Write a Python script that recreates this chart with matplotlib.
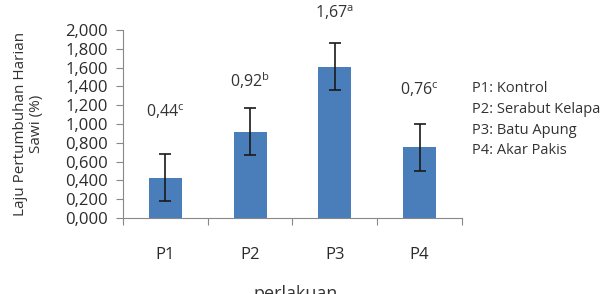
import numpy as np
import matplotlib.pyplot as plt

plt.rcParams['font.family'] = ['Open Sans', 'DejaVu Sans']
plt.rcParams['mathtext.fontset'] = 'custom'
plt.rcParams['mathtext.rm'] = 'Open Sans'

# data
perlakuan = ['P1', 'P2', 'P3', 'P4']
laju = [0.43, 0.915, 1.61, 0.755]
galat = [0.25, 0.25, 0.25, 0.25]
label_nilai = ['0,44$^{\\rm c}$', '0,92$^{\\rm b}$', '1,67$^{\\rm a}$', '0,76$^{\\rm c}$']
label_y = [1.13, 1.46, 2.18, 1.36]
keterangan = ['P1: Kontrol', 'P2: Serabut Kelapa', 'P3: Batu Apung', 'P4: Akar Pakis']

fig = plt.figure(figsize=(6.15, 2.94), dpi=100)
ax = fig.add_axes([0.2, 0.2585, 0.551, 0.6395])

x = np.arange(len(perlakuan))
ax.bar(x, laju, width=0.39, color='#4a7ebb', zorder=2)
ax.errorbar(x, laju, yerr=galat, fmt='none', ecolor='#1a1a1a', elinewidth=1.2,
            capsize=4, capthick=1.2, zorder=3)

for xi, t, yy in zip(x, label_nilai, label_y):
    ax.text(xi, yy, t, ha='center', va='center', fontsize=11.5, color='#333333',
            clip_on=False)

ax.set_xlim(-0.5, 3.5)
ax.set_ylim(0, 2.0)
ax.set_yticks(np.arange(0, 2.01, 0.2))
ax.set_yticklabels([f'{v:.3f}'.replace('.', ',') for v in np.arange(0, 2.01, 0.2)],
                   fontsize=12, color='#2b2b2b')
ax.yaxis.set_tick_params(length=5, color='#888888', pad=6)

ax.set_xticks([-0.5, 0.5, 1.5, 2.5, 3.5])
ax.set_xticklabels([])
ax.set_xticks(x, minor=True)
ax.set_xticklabels(perlakuan, minor=True, fontsize=12, color='#2b2b2b')
ax.xaxis.set_tick_params(which='major', length=5, color='#888888')
ax.xaxis.set_tick_params(which='minor', length=0, pad=21)

for s in ['top', 'right']:
    ax.spines[s].set_visible(False)
for s in ['left', 'bottom']:
    ax.spines[s].set_color('#888888')

ax.set_ylabel('Laju Pertumbuhan Harian\nSawi (%)', fontsize=11, color='#333333',
              labelpad=15, linespacing=1.1)

fig.text(0.481, 0.03, 'perlakuan', ha='center', va='top', fontsize=13,
         color='#333333')

for i, k in enumerate(keterangan):
    fig.text(0.767, 1 - (88 + i * 21) / 294, k, ha='left', va='center',
             fontsize=10.5, color='#333333')

fig.savefig('out.png', dpi=100)
